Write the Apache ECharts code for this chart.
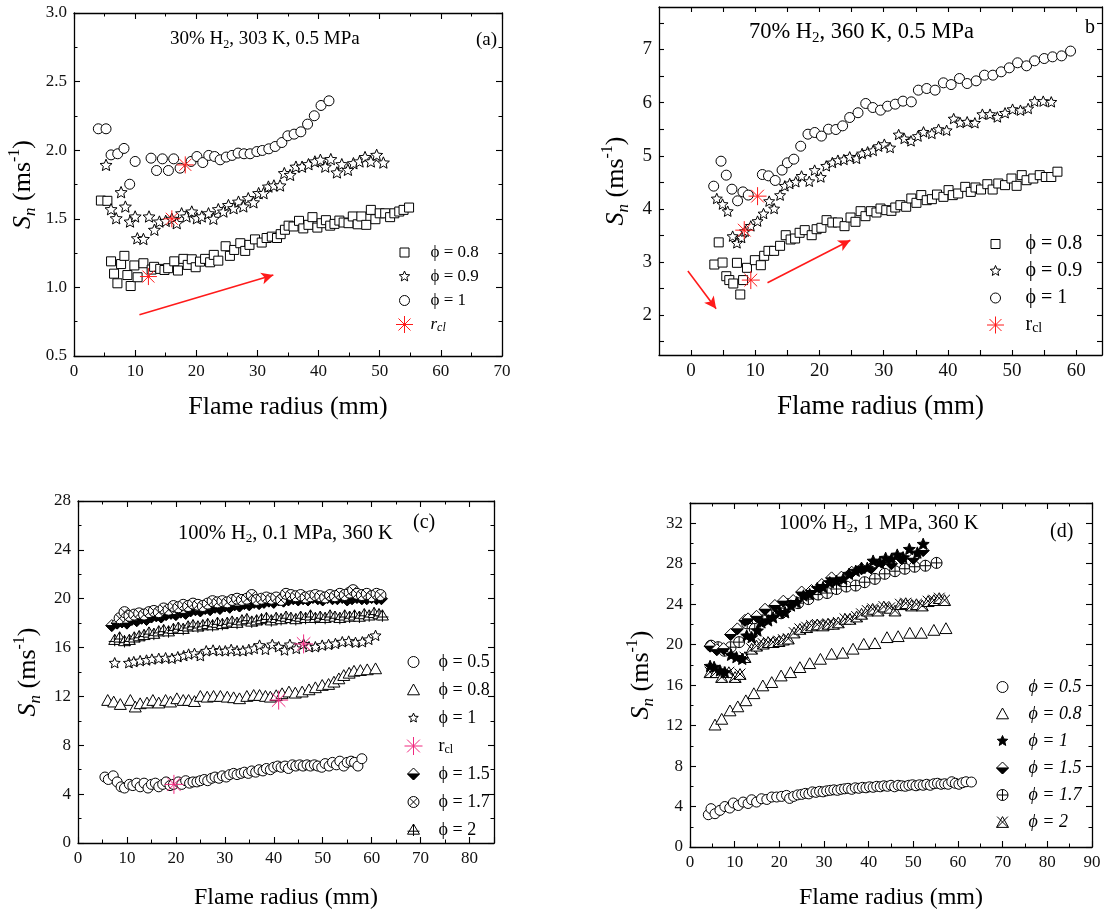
<!DOCTYPE html>
<html><head><meta charset="utf-8">
<script src="https://cdn.jsdelivr.net/npm/echarts@6/dist/echarts.min.js"></script>
<style>html,body{margin:0;padding:0;background:#fff}#c{width:1108px;height:914px}</style>
</head><body><div id="c"></div>
<script>
// ---------- tick labels ----------
const A_X_TICKS = [0,10,20,30,40,50,60,70];
const A_Y_TICKS = [0.5,1.0,1.5,2.0,2.5,3.0];
const B_X_LABELS = [0,10,20,30,40,50,60];
const B_X_TICKS = [0,5,10,15,20,25,30,35,40,45,50,55,60];
const B_Y_LABELS = [2,3,4,5,6,7];
const B_Y_TICKS = [1.5,2,2.5,3,3.5,4,4.5,5,5.5,6,6.5,7,7.5];
const C_X_TICKS = [0,10,20,30,40,50,60,70,80];
const C_Y_TICKS = [0,4,8,12,16,20,24,28];
const D_X_TICKS = [0,10,20,30,40,50,60,70,80,90];
const D_Y_TICKS = [0,4,8,12,16,20,24,28,32];

// ---------- panel (a) ----------
const A_PHI08 = [[4.4,1.633],[5.46,1.631],[6.06,1.19],[6.55,1.10],[7.1,1.03],[7.7,1.17],[8.24,1.23],[8.73,1.09],[9.27,1.01],[9.87,1.16],[10.4,1.074],[11.35,1.176],[12.7,1.13],[13.1,1.15],[14.1,1.135],[14.8,1.127],[15.4,1.14],[16.4,1.19],[17.0,1.123],[17.9,1.208],[18.6,1.164],[19.26,1.205],[19.9,1.147],[20.6,1.188],[21.44,1.208],[22.26,1.183],[22.86,1.237],[23.6,1.195],[24.8,1.30],[25.5,1.23],[26.2,1.273],[27.2,1.322],[28.0,1.266],[28.7,1.31],[29.6,1.35],[30.7,1.327],[31.5,1.36],[32.35,1.37],[33.2,1.36],[33.8,1.388],[34.5,1.42],[35.1,1.45],[35.9,1.444],[36.8,1.485],[37.5,1.43],[38.35,1.456],[39.0,1.512],[39.8,1.436],[40.5,1.468],[41.2,1.49],[41.9,1.45],[42.6,1.463],[43.4,1.487],[44.1,1.473],[44.9,1.468],[45.6,1.517],[46.4,1.46],[47.0,1.517],[47.8,1.456],[48.55,1.565],[49.3,1.497],[50.0,1.54],[50.9,1.54],[51.7,1.512],[52.4,1.54],[53.2,1.553],[53.9,1.565],[54.8,1.582]];
const A_PHI09 = [[5.24,1.893],[6.06,1.57],[6.9,1.504],[7.7,1.694],[8.4,1.589],[9.16,1.48],[10.0,1.517],[10.36,1.358],[11.35,1.353],[12.27,1.517],[13.15,1.42],[13.97,1.48],[15.0,1.485],[16.0,1.5],[16.8,1.468],[17.6,1.54],[18.4,1.517],[19.26,1.553],[20.1,1.504],[20.9,1.517],[22.0,1.54],[22.8,1.5],[23.6,1.57],[24.44,1.553],[25.26,1.6],[26.1,1.577],[26.9,1.625],[27.7,1.59],[28.5,1.65],[29.35,1.62],[30.2,1.687],[31.0,1.687],[31.8,1.735],[32.7,1.743],[33.7,1.743],[34.4,1.833],[35.35,1.82],[36.3,1.88],[37.3,1.88],[38.35,1.898],[39.4,1.918],[40.3,1.93],[41.1,1.88],[42.0,1.935],[43.0,1.838],[43.8,1.898],[44.8,1.857],[45.7,1.905],[46.7,1.918],[47.6,1.95],[48.55,1.918],[49.5,1.966],[50.6,1.91]];
const A_PHI1 = [[3.98,2.156],[5.24,2.156],[6.06,1.966],[7.15,1.974],[8.18,2.013],[9.11,1.752],[10.0,1.918],[12.6,1.942],[13.5,1.852],[14.46,1.937],[15.44,1.852],[16.3,1.937],[17.35,1.869],[19.15,1.918],[20.1,1.954],[21.06,1.91],[22.04,1.962],[23.0,1.954],[23.9,1.93],[24.9,1.95],[25.86,1.962],[26.84,1.979],[27.8,1.974],[28.8,1.974],[29.9,1.99],[30.8,1.998],[31.86,2.01],[32.9,2.027],[34.0,2.056],[34.97,2.105],[36.0,2.117],[37.1,2.134],[38.2,2.19],[39.3,2.251],[40.4,2.326],[41.7,2.36]];
const A_RCL = [[12.17,1.079],[16.0,1.5],[18.2,1.893]];
const A_ARROW = [[10.7,0.8],[32.6,1.09]];

// ---------- panel (b) ----------
const B_PHI08 = [[3.62,2.953],[4.3,3.37],[4.9,2.99],[5.48,2.733],[5.95,2.66],[6.57,2.596],[7.14,2.985],[7.66,2.389],[8.1,2.66],[8.7,2.891],[9.93,3.035],[10.86,2.94],[11.38,3.117],[12.05,3.21],[12.93,3.21],[13.86,3.305],[14.74,3.505],[15.5,3.424],[16.2,3.443],[16.9,3.55],[17.7,3.6],[18.78,3.505],[19.55,3.618],[20.3,3.644],[21.1,3.788],[22.0,3.744],[22.87,3.744],[23.9,3.675],[24.83,3.838],[25.6,3.757],[26.4,3.957],[27.16,3.863],[28.0,3.957],[28.87,3.932],[29.5,4.007],[30.4,3.976],[31.2,3.963],[31.8,4.026],[32.6,4.07],[33.5,4.04],[34.3,4.196],[35.1,4.114],[35.85,4.26],[36.7,4.164],[37.5,4.183],[38.3,4.27],[39.3,4.227],[40.1,4.353],[40.76,4.259],[41.6,4.29],[42.7,4.415],[43.56,4.32],[44.3,4.403],[45.16,4.365],[46.14,4.465],[46.97,4.365],[47.85,4.478],[48.9,4.447],[49.9,4.572],[50.7,4.434],[51.5,4.635],[52.25,4.54],[53.3,4.572],[54.3,4.635],[55.25,4.6],[56.1,4.6],[57.06,4.7]];
const B_PHI09 = [[4.0,4.196],[4.9,4.09],[5.7,3.957],[6.47,3.487],[7.14,3.36],[7.86,3.46],[8.4,3.58],[9.3,3.68],[10.35,3.77],[11.28,3.913],[12.16,4.146],[12.93,4.007],[13.86,4.259],[14.6,4.434],[15.36,4.478],[16.3,4.51],[17.2,4.62],[18.4,4.52],[19.24,4.73],[20.2,4.6],[21.05,4.81],[22.0,4.873],[22.87,4.917],[23.8,4.93],[24.7,4.98],[25.76,4.95],[26.64,5.043],[27.5,5.074],[28.35,5.1],[29.2,5.18],[30.1,5.218],[31.0,5.155],[32.33,5.4],[33.2,5.325],[34.25,5.28],[35.33,5.37],[36.2,5.45],[37.5,5.42],[38.54,5.5],[39.8,5.48],[40.9,5.7],[41.9,5.626],[43.0,5.64],[44.2,5.62],[45.37,5.783],[46.56,5.783],[47.7,5.73],[48.9,5.808],[50.07,5.877],[51.3,5.858],[52.5,5.89],[53.5,6.028],[54.85,6.028],[56.1,6.015]];
const B_PHI1 = [[3.52,4.428],[4.66,4.898],[5.48,4.635],[6.36,4.371],[7.24,4.152],[8.07,4.32],[8.9,4.26],[11.1,4.647],[12.05,4.622],[13.1,4.535],[14.17,4.73],[15.0,4.867],[16.0,4.936],[17.07,5.18],[18.2,5.406],[19.26,5.438],[20.3,5.37],[21.4,5.5],[22.55,5.494],[23.6,5.563],[24.7,5.72],[26.0,5.81],[27.2,5.984],[28.3,5.908],[29.5,5.858],[30.6,5.933],[31.8,5.971],[33.0,6.028],[34.3,6.015],[35.4,6.235],[36.7,6.266],[38.0,6.235],[39.3,6.373],[40.5,6.34],[41.8,6.454],[43.0,6.36],[44.4,6.41],[45.7,6.517],[47.0,6.517],[48.3,6.58],[49.56,6.655],[50.85,6.75],[52.25,6.693],[53.5,6.787],[55.0,6.83],[56.3,6.862],[57.7,6.88],[59.1,6.97]];
const B_RCL = [[10.35,4.24],[8.28,3.6],[9.3,2.66]];
const B_ARROW1 = [[-0.5,2.83],[3.9,2.12]];
const B_ARROW2 = [[11.9,2.61],[24.8,3.41]];

// ---------- panel (c) ----------
const C_PHI05 = [[5.5,5.4],[6.2,5.2],[7.2,5.5],[8.0,5.0],[8.8,4.6],[9.5,4.5],[10.5,4.8],[11.2,4.7],[12.0,4.9],[12.7,4.6],[13.5,4.9],[14.3,4.5],[15.0,4.8],[15.8,4.9],[16.5,4.6],[17.3,4.8],[18.0,5.0],[18.8,4.7],[19.5,4.8],[20.5,5.0],[21.2,4.8],[22.0,5.1],[22.8,4.9],[23.5,5.0],[24.3,5.0],[25.0,5.1],[25.8,5.2],[26.5,5.1],[27.3,5.3],[28.0,5.4],[28.8,5.3],[29.5,5.5],[30.3,5.4],[31.0,5.6],[31.8,5.7],[32.5,5.6],[33.3,5.7],[34.0,5.8],[34.8,5.7],[35.5,5.9],[36.3,5.8],[37.0,6.0],[37.8,5.9],[38.5,6.1],[39.3,6.0],[40.0,6.2],[40.8,6.3],[41.5,6.2],[42.3,6.3],[43.0,6.1],[43.8,6.4],[44.5,6.3],[45.3,6.4],[46.0,6.3],[46.8,6.4],[47.5,6.3],[48.3,6.4],[49.0,6.3],[49.8,6.2],[50.5,6.5],[51.3,6.3],[52.0,6.6],[52.8,6.4],[53.5,6.7],[54.3,6.3],[55.0,6.6],[55.8,6.7],[56.5,6.6],[57.2,6.3],[58.0,6.9]];
const C_PHI08 = [[6.07,11.71],[7.3,11.58],[8.65,11.38],[10.7,11.71],[11.7,11.17],[12.7,11.44],[14.1,11.5],[15.3,11.71],[16.5,11.5],[17.9,11.71],[18.9,11.58],[20.2,11.85],[21.5,11.71],[22.6,11.71],[23.8,11.62],[25.0,12.04],[26.4,11.98],[27.7,12.04],[29.1,12.04],[30.5,11.98],[31.8,11.93],[33.0,11.85],[34.5,12.04],[35.9,12.12],[37.1,12.12],[38.3,12.04],[39.3,11.98],[40.5,12.1],[41.7,12.26],[43.1,12.4],[44.4,12.31],[45.8,12.4],[47.2,12.58],[48.5,12.75],[49.9,12.94],[51.2,13.02],[52.3,13.21],[53.3,13.48],[54.3,13.75],[55.4,13.94],[56.4,14.1],[57.7,14.16],[59.1,14.22],[60.8,14.3]];
const C_PHI1 = [[7.5,14.76],[10.4,14.76],[11.4,14.85],[12.7,14.93],[14.0,14.98],[15.1,15.06],[16.5,15.12],[17.9,15.17],[19.2,15.12],[20.4,15.25],[21.6,15.34],[22.6,15.47],[23.8,15.53],[25.0,15.34],[26.2,15.74],[27.6,15.8],[28.9,15.74],[30.1,15.74],[31.3,15.85],[32.5,15.74],[33.7,15.74],[34.9,15.85],[36.0,15.93],[37.1,16.2],[38.3,15.85],[39.7,16.26],[41.0,16.07],[42.2,15.8],[43.3,16.26],[44.6,15.93],[46.1,16.29],[47.2,16.07],[48.5,16.07],[49.9,16.2],[51.2,16.26],[52.6,16.34],[54.0,16.48],[55.3,16.53],[56.7,16.43],[58.1,16.48],[59.4,16.67],[60.8,17.0]];
const C_PHI15 = [[6.9,17.8],[8.0,18.0],[9.0,18.1],[10.0,18.0],[11.0,18.3],[12.0,18.2],[13.0,18.4],[14.0,18.3],[15.0,18.5],[16.0,18.6],[17.0,18.5],[18.0,18.7],[19.0,18.8],[20.0,18.7],[21.0,18.9],[22.0,18.8],[23.0,19.0],[24.0,19.1],[25.0,19.0],[26.0,19.2],[27.0,19.1],[28.0,19.3],[29.0,19.2],[30.0,19.4],[31.0,19.3],[32.0,19.5],[33.0,19.4],[34.0,19.6],[35.0,19.5],[36.0,19.7],[37.0,19.6],[38.0,19.7],[39.0,19.8],[40.0,19.7],[41.0,19.9],[42.0,19.8],[43.0,19.9],[44.0,20.0],[45.0,19.9],[46.0,20.0],[47.0,19.9],[48.0,20.1],[49.0,20.0],[50.0,19.9],[51.0,20.1],[52.0,20.0],[53.0,20.0],[54.0,20.1],[55.0,19.9],[56.0,20.0],[57.0,20.1],[58.0,20.0],[59.0,20.0],[60.0,20.1],[61.0,20.0],[62.0,20.0]];
const C_PHI17 = [[8.5,18.4],[9.5,18.9],[10.5,18.6],[11.5,18.7],[12.5,18.8],[13.5,18.7],[14.5,18.9],[15.5,19.0],[16.5,18.9],[17.5,19.2],[18.5,19.1],[19.5,19.4],[20.5,19.3],[21.5,19.5],[22.5,19.4],[23.5,19.6],[24.5,19.5],[25.5,19.4],[26.5,19.6],[27.5,19.8],[28.5,19.7],[29.5,19.8],[30.5,19.7],[31.5,19.9],[32.5,20.0],[33.5,19.9],[34.5,20.0],[35.5,20.3],[36.5,19.9],[37.5,20.0],[38.5,20.1],[39.5,20.0],[40.5,20.1],[41.5,19.9],[42.5,20.4],[43.5,20.3],[44.5,20.2],[45.5,20.3],[46.5,20.1],[47.5,20.2],[48.5,20.3],[49.5,20.2],[50.5,20.1],[51.5,20.3],[52.5,20.2],[53.5,20.4],[54.5,20.3],[55.5,20.5],[56.2,20.7],[57.0,20.4],[58.0,20.3],[59.0,20.4],[60.0,20.2],[61.0,20.4],[61.8,20.3]];
const C_PHI2 = [[7.5,16.6],[8.5,16.8],[9.5,16.5],[10.5,16.6],[11.5,16.8],[12.5,16.9],[13.5,17.0],[14.5,17.2],[15.5,17.1],[16.5,17.3],[17.5,17.4],[18.5,17.3],[19.5,17.5],[20.5,17.6],[21.5,17.5],[22.5,17.7],[23.5,17.8],[24.5,17.7],[25.5,17.8],[26.5,17.9],[27.5,17.8],[28.5,18.0],[29.5,17.9],[30.5,18.0],[31.5,18.1],[32.5,18.0],[33.5,18.2],[34.5,18.3],[35.5,18.1],[36.5,18.2],[37.5,18.3],[38.5,18.4],[39.5,18.2],[40.5,18.4],[41.5,18.3],[42.5,18.5],[43.5,18.4],[44.5,18.3],[45.5,18.5],[46.5,18.4],[47.5,18.6],[48.5,18.4],[49.5,18.5],[50.5,18.4],[51.5,18.6],[52.5,18.5],[53.5,18.4],[54.5,18.6],[55.5,18.5],[56.5,18.6],[57.5,18.5],[58.5,18.7],[59.5,18.6],[60.5,18.8],[61.5,18.7],[62.2,18.6]];
const C_RCL = [[19.6,4.8],[41.0,11.7],[46.1,16.3]];

// ---------- panel (d) ----------
const D_PHI05 = [[4.1,3.19],[4.7,3.79],[5.6,3.29],[6.7,3.62],[7.8,4.0],[8.9,3.85],[9.7,4.35],[10.8,4.1],[11.9,4.44],[13.0,4.3],[13.8,4.67],[14.9,4.44],[16.0,4.77],[17.2,4.7],[18.3,4.94],[19.4,4.94],[20.5,5.0],[21.6,5.1],[22.3,4.8],[23.2,5.0],[24.1,5.15],[25.0,5.2],[25.8,5.3],[26.6,5.25],[27.4,5.45],[28.2,5.4],[29.0,5.5],[29.8,5.45],[30.6,5.55],[31.4,5.6],[32.2,5.65],[33.0,5.6],[33.8,5.7],[34.6,5.75],[35.4,5.8],[36.2,5.7],[37.0,5.85],[37.8,5.8],[38.6,5.9],[39.4,5.85],[40.2,5.95],[41.0,5.9],[41.8,6.0],[42.6,5.95],[43.4,6.05],[44.2,6.0],[45.0,6.1],[45.8,5.95],[46.6,6.1],[47.4,6.05],[48.2,6.0],[49.0,6.1],[49.8,6.15],[50.6,6.05],[51.4,6.15],[52.2,6.1],[53.0,6.2],[53.8,6.1],[54.6,6.25],[55.4,6.3],[56.2,6.2],[57.0,6.25],[57.8,6.2],[58.6,6.45],[59.4,6.3],[60.2,6.2],[61.0,6.35],[61.8,6.45],[63.0,6.42]];
const D_PHI08 = [[5.6,12.1],[7.1,12.67],[8.95,13.5],[10.7,13.9],[12.5,14.5],[14.3,15.2],[16.3,15.97],[18.3,16.3],[20.4,16.95],[22.5,17.28],[24.6,17.78],[26.8,18.17],[29.2,18.6],[31.7,19.1],[34.2,19.2],[36.5,19.6],[38.9,20.08],[41.4,20.15],[44.1,20.74],[46.6,20.84],[49.2,21.17],[51.8,21.17],[54.6,21.46],[57.3,21.63]];
const D_PHI1 = [[4.5,17.9],[5.4,17.8],[6.7,17.45],[7.8,17.28],[9.2,19.0],[10.4,18.77],[11.7,18.6],[12.7,20.9],[13.8,20.74],[15.1,21.4],[16.0,22.2],[17.5,22.4],[18.6,22.7],[20.1,23.2],[21.3,23.2],[22.6,23.87],[23.9,24.2],[25.4,24.86],[26.8,25.0],[28.5,25.6],[29.8,25.7],[31.3,26.17],[32.8,26.3],[34.3,26.5],[35.6,27.0],[37.1,27.3],[38.4,27.6],[39.7,27.6],[41.0,28.3],[42.5,28.15],[43.8,28.58],[45.1,28.48],[46.4,28.9],[47.7,28.64],[49.1,29.46],[50.9,29.1],[52.2,29.96]];
const D_PHI15 = [[4.5,19.85],[6.0,19.5],[7.5,19.6],[9.1,21.0],[10.6,21.56],[12.3,22.4],[13.0,22.55],[14.9,22.8],[16.8,23.5],[19.0,23.87],[20.9,24.3],[23.1,24.36],[25.0,25.2],[27.2,25.35],[29.5,25.94],[31.7,26.6],[33.9,26.67],[36.2,27.16],[38.4,27.5],[40.6,27.6],[42.9,28.15],[45.1,28.0],[47.4,28.5],[50.0,28.54],[52.2,29.3]];
const D_PHI17 = [[4.7,19.9],[6.3,19.75],[7.7,19.4],[9.1,19.75],[11.0,20.25],[12.8,22.1],[14.5,21.56],[16.3,22.4],[18.3,22.9],[20.4,23.1],[22.0,24.0],[24.2,24.1],[26.5,24.5],[28.7,24.95],[30.7,25.1],[32.8,25.5],[35.0,25.74],[37.1,25.84],[39.1,26.17],[41.4,26.5],[43.6,27.0],[45.9,27.26],[48.1,27.5],[50.3,27.7],[52.7,27.8],[55.2,28.08]];
const D_PHI2 = [[4.5,17.28],[5.8,17.28],[7.1,16.8],[8.7,17.28],[10.1,16.8],[11.2,17.1],[12.3,18.77],[13.8,19.6],[14.9,19.9],[16.4,20.1],[17.5,20.25],[18.6,20.25],[19.9,20.35],[20.9,20.5],[22.0,20.6],[23.3,21.2],[24.6,21.56],[26.1,21.73],[27.2,21.9],[28.5,22.0],[29.8,21.9],[30.9,22.06],[32.1,22.06],[33.2,22.2],[34.7,22.55],[35.8,22.55],[37.3,22.78],[38.4,23.05],[39.7,23.37],[40.9,23.54],[42.1,23.37],[43.4,23.77],[44.7,23.64],[45.9,23.37],[47.1,24.0],[48.3,24.1],[49.6,23.87],[50.7,24.0],[52.0,23.87],[53.3,24.3],[54.6,24.4],[55.8,24.6],[57.0,24.4]];

// ---------- symbols (drawn in a 20 x 20 box) ----------
const SH = {
  square: 'M0 0 L20 0 L20 20 L0 20 Z',
  circle: 'M20 10 A10 10 0 1 1 0 10 A10 10 0 1 1 20 10 Z',
  triangle: 'M10 0 L20 18 L0 18 Z',
  star: 'M10 0 L12.65 6.36 L19.51 6.91 L14.28 11.39 L15.88 18.09 L10 14.5 L4.12 18.09 L5.72 11.39 L0.49 6.91 L7.35 6.36 Z',
  aster: 'M10 0 L10 20 M0 10 L20 10 M2.93 2.93 L17.07 17.07 M17.07 2.93 L2.93 17.07',
  // diamond outline, lower half shaded by dense horizontal strokes
  halfDiamond: 'M10 0 L20 10 L10 20 L0 10 Z M0 10 L20 10 M0.7 10.7 L19.3 10.7 M1.4 11.4 L18.6 11.4 M2.1 12.1 L17.9 12.1 M2.8 12.8 L17.2 12.8 M3.5 13.5 L16.5 13.5 M4.2 14.2 L15.8 14.2 M4.9 14.9 L15.1 14.9 M5.6 15.6 L14.4 15.6 M6.3 16.3 L13.7 16.3 M7 17 L13 17 M7.7 17.7 L12.3 17.7 M8.4 18.4 L11.6 18.4 M9.1 19.1 L10.9 19.1',
  circleX: 'M20 10 A10 10 0 1 1 0 10 A10 10 0 1 1 20 10 Z M2.93 2.93 L17.07 17.07 M17.07 2.93 L2.93 17.07',
  circlePlus: 'M20 10 A10 10 0 1 1 0 10 A10 10 0 1 1 20 10 Z M10 0 L10 20 M0 10 L20 10',
  triPlus: 'M10 0 L20 17 L0 17 Z M10 0 L10 20 M0 12 L20 12',
  triX: 'M10 1 L20 19 L0 19 Z M1 1 L19 19 M19 1 L1 19'
};
const sym = k => 'path://' + SH[k];
const LBOX = 18;
function icon(k, size) {
  const p = Math.max(0, (20 * LBOX / size - 20) / 2);
  return 'path://M' + (-p) + ' ' + (-p) + ' M' + (20 + p) + ' ' + (20 + p) + ' ' + SH[k];
}

const F = "'Liberation Serif','Times New Roman',serif";
const RED = '#ff1a1a', PINK = '#f0287f';

function axisPair(kind, gi, o) {
  const common = {type: 'value', gridIndex: gi, min: o.min, max: o.max, splitLine: {show: false},
    axisLine: {show: true, onZero: false, lineStyle: {color: '#000', width: 1.3}}};
  if (o.interval) common.interval = o.interval;
  const tick = {show: true, inside: true, length: 6, lineStyle: {color: '#000', width: 1.1}};
  if (o.ticks) { tick.customValues = o.ticks; tick.length = 5; }
  const minor = o.ticks ? {show: false} : {show: true, splitNumber: 2, length: 3.5, lineStyle: {color: '#000', width: 1}};
  const label = {show: true, fontFamily: F, fontSize: o.fs, color: '#111', margin: o.margin || 7,
    showMaxLabel: o.showMax !== false};
  if (o.labels) label.customValues = o.labels;
  if (o.fmt) label.formatter = o.fmt;
  const main = Object.assign({}, common, {
    position: kind === 'x' ? 'bottom' : 'left', axisTick: tick, minorTick: minor, axisLabel: label,
    name: o.name, nameLocation: 'middle', nameGap: o.nameGap, nameTextStyle: o.nameStyle});
  const twin = Object.assign({}, common, {position: kind === 'x' ? 'top' : 'right', axisTick: tick, minorTick: minor,
    axisLabel: {show: false}});
  return [main, twin];
}
const xName = fs => ({fontFamily: F, fontSize: fs, color: '#000'});
const yName = {fontFamily: F, fontSize: 26, lineHeight: 32, color: '#000', rich: {
  i: {fontFamily: F, fontStyle: 'italic', fontSize: 26, lineHeight: 32, color: '#000'},
  n: {fontFamily: F, fontStyle: 'italic', fontSize: 17, lineHeight: 17, verticalAlign: 'bottom', color: '#000'},
  t: {fontFamily: F, fontSize: 26, lineHeight: 32, color: '#000'},
  sp: {fontFamily: F, fontSize: 16, lineHeight: 16, verticalAlign: 'top', color: '#000'}}};
const Y_NAME = '{i|S}{n|n}{t| (ms}{sp|-1}{t|)}';

const xAxes = [].concat(
  axisPair('x', 0, {min: 0, max: 70, interval: 10, fs: 17, name: 'Flame radius (mm)', nameGap: 38, nameStyle: xName(26)}),
  axisPair('x', 1, {min: -5, max: 64, ticks: B_X_TICKS, labels: B_X_LABELS, fs: 19, name: 'Flame radius (mm)', nameGap: 38, nameStyle: xName(27)}),
  axisPair('x', 2, {min: 0, max: 85, interval: 10, fs: 17, showMax: false, name: 'Flame radius (mm)', nameGap: 43, nameStyle: xName(24)}),
  axisPair('x', 3, {min: 0, max: 90, interval: 10, fs: 17, name: 'Flame radius (mm)', nameGap: 39, nameStyle: xName(24)})
);
const yAxes = [].concat(
  axisPair('y', 0, {min: 0.5, max: 3.0, interval: 0.5, fs: 17, fmt: v => v.toFixed(1), name: Y_NAME, nameGap: 35, nameStyle: yName}),
  axisPair('y', 1, {min: 1.25, max: 7.8, ticks: B_Y_TICKS, labels: B_Y_LABELS, fs: 19, name: Y_NAME, nameGap: 27, nameStyle: yName}),
  axisPair('y', 2, {min: 0, max: 28, interval: 4, fs: 17, name: Y_NAME, nameGap: 34, nameStyle: yName}),
  axisPair('y', 3, {min: 0, max: 34, interval: 4, fs: 17, showMax: false, name: Y_NAME, nameGap: 33, nameStyle: yName})
);

function sc(name, gi, data, shape, size, fill, stroke, bw) {
  return {type: 'scatter', name: name, xAxisIndex: 2 * gi, yAxisIndex: 2 * gi, data: data,
    symbol: sym(shape), symbolSize: size, symbolKeepAspect: true,
    itemStyle: {color: fill, borderColor: stroke, borderWidth: bw == null ? 1 : bw, opacity: 1},
    emphasis: {disabled: true}, silent: true};
}
function arrowLine(pts) {
  return [{coord: pts[0], symbol: 'none'}, {coord: pts[1], symbol: 'arrow'}];
}
const W = '#fff', K = '#000';
const series = [
  sc('a0', 0, A_PHI08, 'square', 9, W, K),
  sc('a1', 0, A_PHI09, 'star', 12, W, K),
  sc('a2', 0, A_PHI1, 'circle', 10, W, K),
  Object.assign(sc('a3', 0, A_RCL, 'aster', 17, RED, RED, 1), {markLine: {silent: true, symbolSize: [9, 12],
    lineStyle: {color: RED, width: 1.6, type: 'solid'}, label: {show: false}, data: [arrowLine(A_ARROW)]}}),

  sc('b0', 1, B_PHI08, 'square', 9, W, K),
  sc('b1', 1, B_PHI09, 'star', 11, W, K),
  sc('b2', 1, B_PHI1, 'circle', 10, W, K),
  Object.assign(sc('b3', 1, B_RCL, 'aster', 18, RED, RED, 1), {markLine: {silent: true, symbolSize: [9, 12],
    lineStyle: {color: RED, width: 1.6, type: 'solid'}, label: {show: false}, data: [arrowLine(B_ARROW1), arrowLine(B_ARROW2)]}}),

  sc('c0', 2, C_PHI05, 'circle', 10, W, K),
  sc('c1', 2, C_PHI08, 'triangle', 12, W, K),
  sc('c2', 2, C_PHI1, 'star', 11, W, K),
  sc('c4', 2, C_PHI15, 'halfDiamond', 12, W, K),
  sc('c5', 2, C_PHI17, 'circleX', 11, W, K),
  sc('c6', 2, C_PHI2, 'triPlus', 12, W, K),
  sc('c3', 2, C_RCL, 'aster', 19, PINK, PINK, 1),

  sc('d0', 3, D_PHI05, 'circle', 10, W, K),
  sc('d1', 3, D_PHI08, 'triangle', 12, W, K),
  sc('d5', 3, D_PHI2, 'triX', 12, W, K),
  sc('d4', 3, D_PHI17, 'circlePlus', 11, W, K),
  sc('d3', 3, D_PHI15, 'halfDiamond', 12, W, K),
  sc('d2', 3, D_PHI1, 'star', 12, K, K)
];

const LABELS = {
  a0: 'ϕ = 0.8', a1: 'ϕ = 0.9', a2: 'ϕ = 1', a3: '{ri|r}{si|cl}',
  b0: 'ϕ = 0.8', b1: 'ϕ = 0.9', b2: 'ϕ = 1', b3: '{r|r}{s|cl}',
  c0: 'ϕ = 0.5', c1: 'ϕ = 0.8', c2: 'ϕ = 1', c3: '{r|r}{s|cl}', c4: 'ϕ = 1.5', c5: 'ϕ = 1.7', c6: 'ϕ = 2',
  d0: 'ϕ = 0.5', d1: 'ϕ = 0.8', d2: 'ϕ = 1', d3: 'ϕ = 1.5', d4: 'ϕ = 1.7', d5: 'ϕ = 2'
};
function legendRich(fs, lh) {
  return {
    r: {fontFamily: F, fontSize: fs, lineHeight: lh, color: '#000'},
    s: {fontFamily: F, fontSize: Math.round(fs * 0.68), lineHeight: Math.round(fs * 0.68), verticalAlign: 'bottom', color: '#000'},
    ri: {fontFamily: F, fontStyle: 'italic', fontSize: fs, lineHeight: lh, color: '#000'},
    si: {fontFamily: F, fontStyle: 'italic', fontSize: Math.round(fs * 0.68), lineHeight: Math.round(fs * 0.68), verticalAlign: 'bottom', color: '#000'}
  };
}
function lg(left, top, pad, gap, fs, lh, items, italic) {
  return {orient: 'vertical', left: left, top: top, itemWidth: LBOX, itemHeight: LBOX, itemGap: gap,
    padding: 0, selectedMode: false, symbolKeepAspect: true,
    itemStyle: {borderWidth: 1},
    data: items.map(it => ({name: it[0], icon: icon(it[1], it[2])})),
    formatter: n => LABELS[n],
    textStyle: {fontFamily: F, fontSize: fs, lineHeight: lh, color: '#000', fontStyle: italic ? 'italic' : 'normal',
      padding: [0, 0, 0, pad], rich: legendRich(fs, lh)}};
}
const legends = [
  lg(395, 243, 12, 5, 17, 18, [['a0', 'square', 9], ['a1', 'star', 11], ['a2', 'circle', 10], ['a3', 'aster', 17]]),
  lg(986, 234, 16, 7, 20, 20, [['b0', 'square', 9], ['b1', 'star', 11], ['b2', 'circle', 10], ['b3', 'aster', 17]]),
  lg(404, 652, 11, 8, 18, 20, [['c0', 'circle', 11], ['c1', 'triangle', 12], ['c2', 'star', 10], ['c3', 'aster', 18],
    ['c4', 'halfDiamond', 12], ['c5', 'circleX', 11], ['c6', 'triPlus', 12]]),
  lg(993, 677, 12, 7, 18, 20, [['d0', 'circle', 11], ['d1', 'triangle', 12], ['d2', 'star', 11], ['d3', 'halfDiamond', 12],
    ['d4', 'circlePlus', 11], ['d5', 'triX', 12]], true)
];

function ttl(text, left, top, fs) {
  return {text: text, left: left, top: top, padding: 0, textStyle: {fontFamily: F, fontSize: fs, fontWeight: 'normal', color: '#000',
    lineHeight: fs + 4, rich: {s: {fontFamily: F, fontSize: Math.round(fs * 0.65), lineHeight: Math.round(fs * 0.65), verticalAlign: 'bottom', color: '#000'}}}};
}
const titles = [
  ttl('30% H{s|2}, 303 K, 0.5 MPa', 170, 28, 19),
  ttl('(a)', 476, 29, 19),
  ttl('70% H{s|2}, 360 K, 0.5 MPa', 749, 19, 22.5),
  ttl('b', 1085, 16, 20),
  ttl('100% H{s|2}, 0.1 MPa, 360 K', 178, 521, 20.5),
  ttl('(c)', 413, 511, 20),
  ttl('100% H{s|2}, 1 MPa, 360 K', 779, 511, 20.5),
  ttl('(d)', 1050, 520, 20)
];

const chart = echarts.init(document.getElementById('c'), null, {renderer: 'canvas'});
chart.setOption({
  animation: false,
  backgroundColor: '#fff',
  title: titles,
  legend: legends,
  grid: [
    {left: 74, top: 13, width: 428, height: 343},
    {left: 659, top: 7, width: 443, height: 348},
    {left: 78, top: 501, width: 416, height: 342},
    {left: 690, top: 503, width: 402, height: 344}
  ],
  xAxis: xAxes,
  yAxis: yAxes,
  series: series
});
</script></body></html>
